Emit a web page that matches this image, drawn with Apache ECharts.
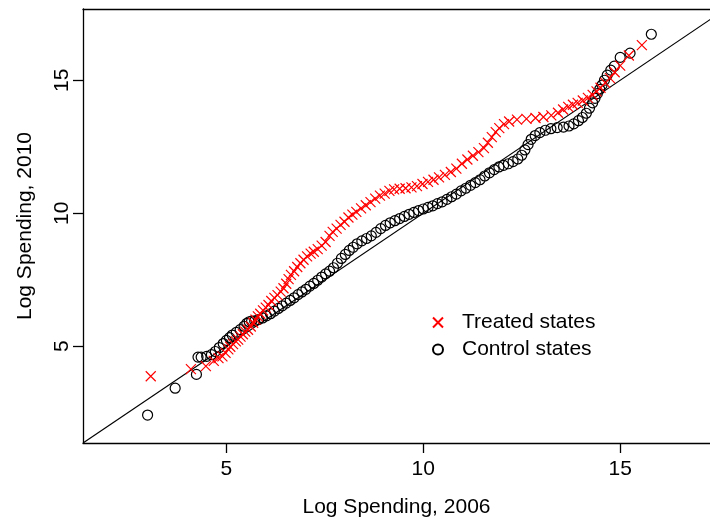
<!DOCTYPE html>
<html>
<head>
<meta charset="utf-8">
<script src="https://cdn.jsdelivr.net/npm/echarts@6/dist/echarts.min.js"></script>
<style>
  html, body { margin: 0; padding: 0; background: #fff; }
  #chart { width: 710px; height: 519px; }
</style>
</head>
<body>
<div id="chart"></div>
<script>
// quantiles: treated states (red x)
var treatedX = [3.08, 4.10, 4.48, 4.68, 4.80, 4.90, 4.98, 5.05, 5.10, 5.17, 5.24, 5.30, 5.36, 5.42, 5.48,
	5.55, 5.62, 5.68, 5.74, 5.80, 5.86, 5.93, 6.00, 6.07, 6.14, 6.22, 6.30, 6.38, 6.45, 6.52,
	6.58, 6.64, 6.72, 6.80, 6.88, 6.96, 7.05, 7.14, 7.22, 7.32, 7.42, 7.52, 7.62, 7.70, 7.80,
	7.90, 8.00, 8.10, 8.20, 8.30, 8.42, 8.54, 8.66, 8.78, 8.90, 9.02, 9.14, 9.26, 9.40, 9.55,
	9.70, 9.84, 9.98, 10.12, 10.26, 10.40, 10.55, 10.70, 10.84, 10.98, 11.12, 11.26, 11.40, 11.54, 11.64,
	11.74, 11.84, 11.93, 12.05, 12.18, 12.38, 12.62, 12.85, 13.05, 13.25, 13.42, 13.55, 13.68, 13.80, 13.92,
	14.05, 14.18, 14.30, 14.40, 14.50, 14.62, 14.74, 14.86, 15.00, 15.22, 15.55];
var treatedY = [3.87, 4.14, 4.25, 4.45, 4.55, 4.62, 4.75, 4.88, 4.98, 5.08, 5.18, 5.25, 5.36, 5.45, 5.55,
	5.62, 5.74, 5.88, 6.00, 6.12, 6.22, 6.35, 6.45, 6.55, 6.70, 6.82, 6.92, 7.05, 7.18, 7.35,
	7.52, 7.68, 7.82, 7.98, 8.12, 8.25, 8.38, 8.48, 8.55, 8.65, 8.78, 8.92, 9.15, 9.30, 9.42,
	9.56, 9.68, 9.84, 9.95, 10.05, 10.18, 10.30, 10.42, 10.55, 10.66, 10.74, 10.84, 10.90, 10.92, 10.94,
	10.97, 11.02, 11.10, 11.18, 11.26, 11.35, 11.44, 11.55, 11.68, 11.86, 12.02, 12.16, 12.30, 12.45, 12.65,
	12.86, 13.05, 13.20, 13.35, 13.45, 13.52, 13.55, 13.58, 13.62, 13.68, 13.78, 13.90, 14.00, 14.08, 14.15,
	14.24, 14.34, 14.45, 14.58, 14.72, 14.90, 15.08, 15.30, 15.55, 15.93, 16.32];

// control states (black o)
var controlX = [3.00, 3.70, 4.24, 4.28, 4.36, 4.50, 4.62, 4.72, 4.82, 4.92, 5.00, 5.08, 5.15, 5.25, 5.35,
	5.45, 5.52, 5.58, 5.64, 5.72, 5.82, 5.92, 6.02, 6.12, 6.22, 6.32, 6.42, 6.52, 6.62, 6.72,
	6.82, 6.92, 7.02, 7.12, 7.22, 7.32, 7.42, 7.52, 7.62, 7.72, 7.82, 7.92, 8.02, 8.12, 8.22,
	8.32, 8.44, 8.56, 8.68, 8.80, 8.92, 9.04, 9.16, 9.28, 9.40, 9.52, 9.64, 9.76, 9.88, 10.00,
	10.12, 10.24, 10.36, 10.48, 10.60, 10.72, 10.84, 10.96, 11.08, 11.20, 11.32, 11.44, 11.56, 11.68, 11.80,
	11.92, 12.04, 12.16, 12.28, 12.40, 12.50, 12.58, 12.66, 12.74, 12.84, 12.96, 13.10, 13.24, 13.40, 13.56,
	13.70, 13.82, 13.94, 14.04, 14.14, 14.22, 14.30, 14.36, 14.42, 14.48, 14.54, 14.60, 14.67, 14.76, 14.85,
	15.00, 15.25, 15.79];
var controlY = [2.41, 3.42, 3.94, 4.59, 4.59, 4.62, 4.68, 4.80, 4.95, 5.10, 5.22, 5.32, 5.42, 5.52, 5.62,
	5.75, 5.86, 5.92, 5.94, 5.95, 6.00, 6.06, 6.14, 6.22, 6.32, 6.42, 6.52, 6.62, 6.72, 6.82,
	6.94, 7.04, 7.14, 7.26, 7.36, 7.48, 7.60, 7.72, 7.82, 7.95, 8.12, 8.30, 8.45, 8.60, 8.72,
	8.85, 8.96, 9.05, 9.15, 9.28, 9.42, 9.54, 9.64, 9.72, 9.80, 9.88, 9.96, 10.03, 10.10, 10.16,
	10.22, 10.28, 10.36, 10.43, 10.52, 10.62, 10.72, 10.84, 10.94, 11.05, 11.15, 11.26, 11.40, 11.52, 11.64,
	11.74, 11.80, 11.86, 11.94, 12.04, 12.18, 12.38, 12.58, 12.78, 12.92, 13.03, 13.12, 13.18, 13.22, 13.24,
	13.28, 13.36, 13.48, 13.60, 13.76, 13.95, 14.15, 14.32, 14.50, 14.66, 14.82, 15.00, 15.19, 15.38, 15.53,
	15.86, 16.02, 16.73];

var axisMin = 1.36;
var xMax = 17.28;   // plot box runs past the right edge of the picture
var yMax = 17.68;
var tickValues = [5, 10, 15];
var seriesNames = ['Treated states', 'Control states'];

var FONT = 'Liberation Sans';
var CROSS = 'path://M0,0L10,10M10,0L0,10';
var BLACK_LINE = { color : '#000', width : 1.3 };

function pairs(xs, ys) {
	var out = [];
	for (var i = 0; i < xs.length; i++) {
		out.push([xs[i], ys[i]]);
	}
	return out;
}

function valueAxis(isX) {
	return {
		type : 'value',
		min : axisMin,
		max : isX ? xMax : yMax,
		name : isX ? 'Log Spending, 2006' : 'Log Spending, 2010',
		nameLocation : 'middle',
		nameGap : isX ? 54 : 47,
		nameTextStyle : { fontFamily : FONT, fontSize : 21, color : '#000' },
		splitLine : { show : false },
		axisLine : { show : true, onZero : false, lineStyle : BLACK_LINE },
		axisTick : {
			show : true, length : 10, lineStyle : BLACK_LINE,
			customValues : tickValues
		},
		axisLabel : {
			fontFamily : FONT, fontSize : 21, color : '#000',
			margin : isX ? 16 : 10,
			rotate : isX ? 0 : 90,
			customValues : tickValues
		}
	};
}

// top edge of the box only (no labels)
var topAxis = {
	type : 'value', position : 'top',
	min : axisMin, max : xMax,
	axisLine : { show : true, onZero : false, lineStyle : BLACK_LINE },
	axisTick : { show : false },
	axisLabel : { show : false },
	splitLine : { show : false }
};

var myChart = echarts.init(document.getElementById('chart'));

var chartOption = {
	animation : false,
	backgroundColor : '#fff',
	grid : { left : 83, top : 9, right : 0, height : 434, outerBoundsMode : 'none' },
	xAxis : [valueAxis(true), topAxis],
	yAxis : valueAxis(false),
	legend : {
		orient : 'vertical',
		left : 427, top : 307,
		itemWidth : 10, itemHeight : 10, itemGap : 6,
		data : [
			{ name : seriesNames[0], icon : CROSS },
			{ name : seriesNames[1], icon : 'circle' }
		],
		textStyle : { fontFamily : FONT, fontSize : 21, color : '#000', padding : [0, 0, 0, 14], lineHeight : 21 }
	},
	series : [
		{
			type : 'line',
			data : [[axisMin, axisMin], [yMax, yMax]],
			showSymbol : false,
			silent : true,
			lineStyle : { color : '#000', width : 1.2 },
			z : 1
		},
		{
			name : seriesNames[0],
			type : 'scatter',
			symbol : CROSS,
			symbolSize : 10,
			data : pairs(treatedX, treatedY),
			itemStyle : { color : 'transparent', borderColor : '#ff0000', borderWidth : 1.2, opacity : 1 },
			z : 3
		},
		{
			name : seriesNames[1],
			type : 'scatter',
			symbol : 'circle',
			symbolSize : 10,
			data : pairs(controlX, controlY),
			itemStyle : { color : 'transparent', borderColor : '#000', borderWidth : 1.2, opacity : 1 },
			z : 2
		}
	]
};

myChart.setOption(chartOption);
</script>
</body>
</html>
